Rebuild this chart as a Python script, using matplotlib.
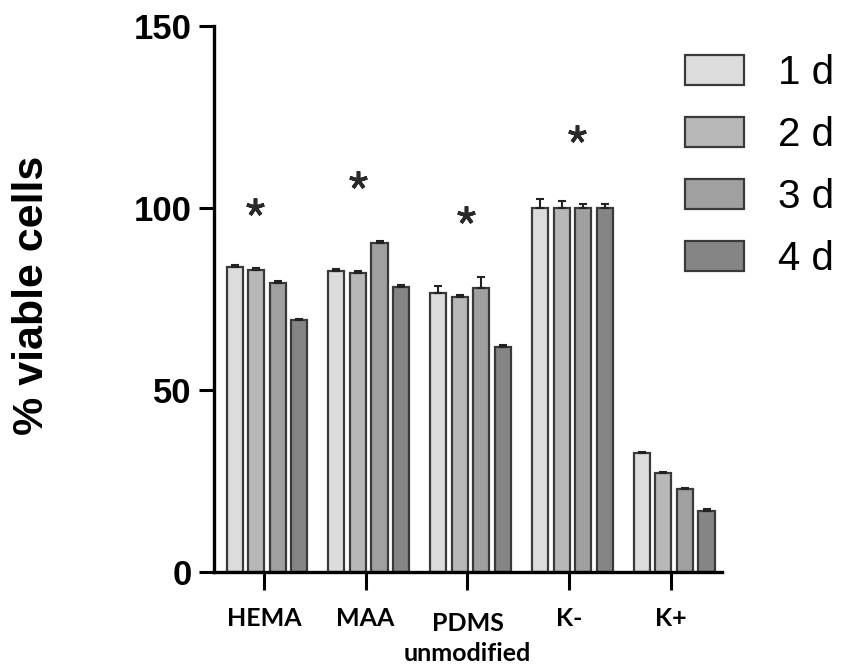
import matplotlib
matplotlib.use("Agg")
import matplotlib.pyplot as plt
import matplotlib.transforms as mtransforms
import numpy as np

categories = ["HEMA", "MAA", "PDMS\nunmodified", "K-", "K+"]
series_labels = ["1 d", "2 d", "3 d", "4 d"]
d1 = [83.8, 82.7, 76.6, 100.0, 32.7]
d2 = [83.0, 82.1, 75.5, 100.0, 27.2]
d3 = [79.4, 90.4, 78.0, 100.0, 22.8]
d4 = [69.2, 78.3, 61.8, 100.0, 16.8]
e1 = [0.5, 0.5, 2.0, 2.5, 0.4]
e2 = [0.5, 0.5, 0.5, 2.0, 0.4]
e3 = [0.6, 0.6, 3.0, 1.2, 0.4]
e4 = [0.4, 0.5, 0.5, 1.0, 0.4]
star_x = [-0.09, 0.92, 1.99, 3.08]
star_y = [100.3, 107.7, 98.1, 120.3]
yticks = [0, 50, 100, 150]

colors = ["#dcdcdc", "#b8b8b8", "#a0a0a0", "#858585"]
edge = "#3a3a3a"

fig = plt.figure(figsize=(8.44, 6.68), dpi=100)
ax = fig.add_axes([214/844, 96/668, (722-214)/844, (572-26)/668])

x = np.arange(len(categories))
step = 0.212
width = 0.158
series = [d1, d2, d3, d4]
errs = [e1, e2, e3, e4]
handles = []
for i, (vals, er) in enumerate(zip(series, errs)):
    pos = x + 0.03 + (i - 1.5) * step
    b = ax.bar(pos, vals, width, color=colors[i], edgecolor=edge, linewidth=1.6,
               yerr=[np.zeros(len(er)), er], capsize=3,
               error_kw=dict(ecolor="#222222", elinewidth=1.5, capthick=1.5),
               label=series_labels[i], zorder=2)
    handles.append(b)

ax.plot(star_x, star_y, linestyle="none", marker=(5, 2, 0), markersize=13,
        markeredgewidth=2.6, color="#2a2a2a", zorder=3)

ax.set_xlim(-0.49, 4.5)
ax.set_ylim(0, 150)
ax.set_yticks(yticks)
ax.set_yticklabels([str(t) for t in yticks], fontsize=25, fontweight="bold",
                   family="Liberation Sans")
ax.set_xticks(x)
ax.set_xticklabels(categories, fontsize=18, fontweight="bold", family="Lato",
                   linespacing=1.4)
for s in ["top", "right"]:
    ax.spines[s].set_visible(False)
for s in ["left", "bottom"]:
    ax.spines[s].set_linewidth(2.4)
ax.tick_params(axis="y", length=11, width=2.2, pad=5)
ax.tick_params(axis="x", length=13, width=2.2, pad=12)

lbl = ax.get_xticklabels()[2]
lbl.set_transform(lbl.get_transform() +
                  mtransforms.ScaledTranslation(0, -5/100, fig.dpi_scale_trans))

fig.text(32/844, 1 - 295/668, "% viable cells", rotation=90, fontsize=31,
         fontweight="bold", family="Liberation Sans", ha="center", va="center")

leg = fig.legend(handles=handles, labels=series_labels, loc="upper left",
                 bbox_to_anchor=(685/844, 1 - 54/668), frameon=False,
                 prop=dict(family="Liberation Sans", size=29),
                 handlelength=1.47, handleheight=0.77, handletextpad=0.85,
                 labelspacing=0.6, borderpad=0, borderaxespad=0)

fig.savefig("out.png", dpi=100)
